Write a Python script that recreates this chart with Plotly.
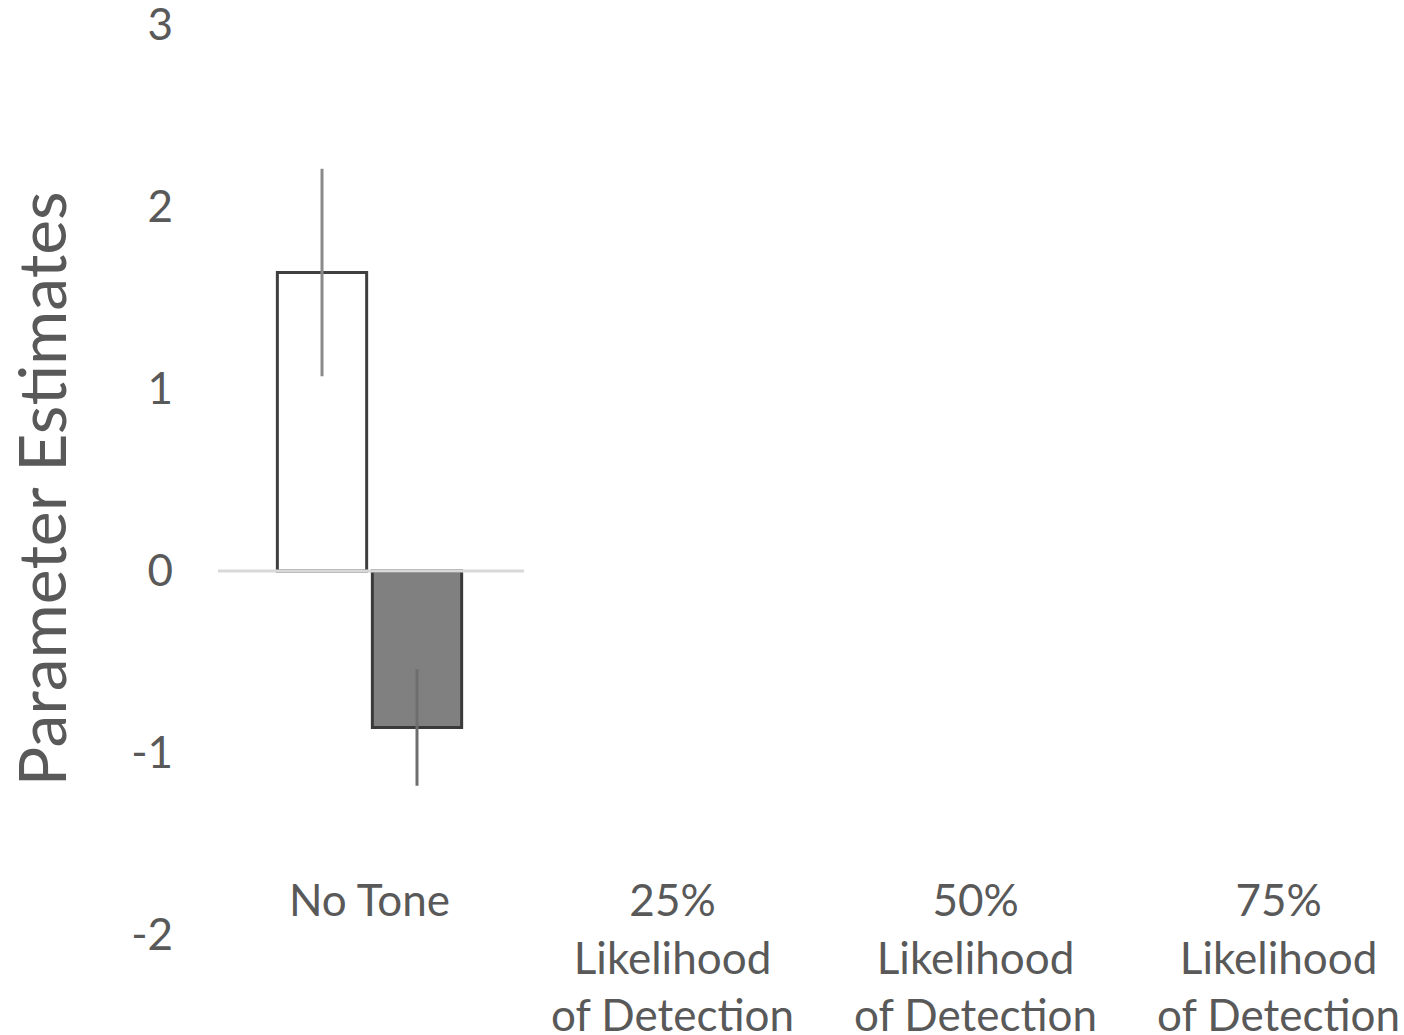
import plotly.graph_objects as go

# Categories and series values
categories = ["No Tone", "25%<br>Likelihood<br>of Detection",
              "50%<br>Likelihood<br>of Detection", "75%<br>Likelihood<br>of Detection"]
series_a = [1.64, None, None, None]
series_a_err = [0.57, None, None, None]
series_b = [-0.86, None, None, None]
series_b_err = [0.32, None, None, None]
y_ticks = [-2, -1, 0, 1, 2, 3]
y_tick_text = ["-2", "-1", "0", "1", "2", "3"]

FONT = "Lato"
TEXT = "#595959"

x_idx = list(range(len(categories)))

fig = go.Figure()
fig.add_trace(go.Bar(
    x=x_idx, y=series_a,
    marker=dict(color="white", line=dict(color="#3f3f3f", width=3)),
    error_y=dict(type="data", array=series_a_err, color="#8a8a8a", thickness=3, width=0),
    showlegend=False,
))
fig.add_trace(go.Bar(
    x=x_idx, y=series_b,
    marker=dict(color="#808080", line=dict(color="#3a3a3a", width=3)),
    error_y=dict(type="data", array=series_b_err, color="#6e6e6e", thickness=3, width=0),
    showlegend=False,
))

# horizontal axis line at zero under the first category
fig.add_shape(type="line", xref="x", yref="y", x0=-0.51, x1=0.51, y0=0, y1=0,
              line=dict(color="#d9d9d9", width=3), layer="above")

fig.update_layout(
    width=1404, height=1035,
    margin=dict(l=218, r=0, t=25, b=100),
    paper_bgcolor="white", plot_bgcolor="white",
    barmode="group", bargap=0.373, bargroupgap=0.06,
    font=dict(family=FONT, color=TEXT),
    xaxis=dict(
        range=[-0.5, 3.414], tickmode="array", tickvals=x_idx, ticktext=categories,
        showgrid=False, zeroline=False, showline=False, ticks="",
        tickfont=dict(family=FONT, size=44, color=TEXT),
        anchor="free", position=0.07, automargin=False,
        ticklabeloverflow="allow",
    ),
    yaxis=dict(
        range=[-2, 3], tickmode="array", tickvals=y_ticks, ticktext=y_tick_text,
        showgrid=False, zeroline=False, showline=False, ticks="",
        tickfont=dict(family=FONT, size=44, color=TEXT),
        ticklabelstandoff=44, automargin=False,
        ticklabeloverflow="allow",
    ),
    annotations=[dict(
        text="Parameter Estimates", textangle=-90,
        xref="paper", yref="paper", x=-0.15, y=0.49,
        xanchor="center", yanchor="middle", showarrow=False,
        font=dict(family=FONT, size=66, color=TEXT),
    )],
)

fig.write_html("out.html")
